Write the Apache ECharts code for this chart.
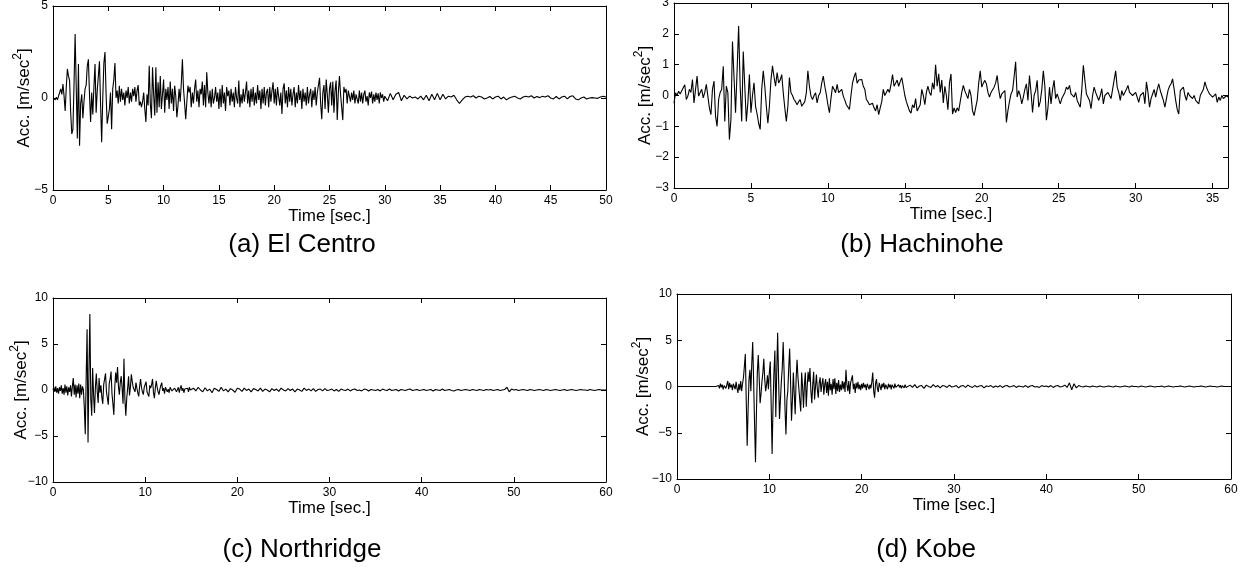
<!DOCTYPE html>
<html>
<head>
<meta charset="utf-8">
<script src="https://cdn.jsdelivr.net/npm/echarts/dist/echarts.min.js"></script>
<style>
html,body{margin:0;padding:0;background:#fff;}
#chart{width:1250px;height:575px;}
</style>
</head>
<body>
<div id="chart"></div>
<script>
// ---------------- DATA ----------------
// El Centro: 0..30 s every 0.1 s, then 30.25..50 s every 0.25 s  [m/sec^2]
const elCentroMain = [
0,0.05,-0.1,0.05,-0.1,0.1,0.3,0.5,0.2,0.76,
0.1,-0.7,0.6,1.58,1.2,0.95,-0.8,-1.95,-1.7,0.7,
3.48,0.6,-2.2,1.85,-2.6,-0.3,0.2,-1.1,-0.2,0.5,
0.7,1.75,2.1,0.2,-1.3,0.3,-0.9,0.6,1.85,-0.8,
0.4,1.2,2.0,-0.3,-2.4,0.0,1.9,2.5,0.2,-1.4,
-1.5,-0.6,0.3,-1.7,0.5,1.0,1.9,0.0,0.4,-0.3,
0.67,-0.2,0.5,-0.1,0.3,-0.4,0.4,0.0,0.6,-0.3,
0.3,-0.2,0.5,0.1,0.6,-0.2,0.4,0.7,-0.4,-0.2,
-0.5,-0.2,0.3,-0.6,-1.3,0.2,-0.4,1.75,-0.3,-1.1,
1.67,0.2,-0.95,1.67,-0.8,0.85,-0.5,1.2,-0.6,0.2,
1.0,-0.8,0.5,-0.1,0.6,-0.6,0.9,-0.3,0.5,-0.7,
0.67,0.1,-1.05,-0.4,0.5,-0.2,0.8,2.1,0.5,-0.3,
-1.15,-0.2,0.67,0.3,0.6,-0.5,0.3,-0.3,0.5,1.0,
-0.2,0.4,-0.5,0.5,0.2,0.9,-0.4,0.7,-0.5,1.4,
0.3,-0.3,0.4,-0.5,0.5,-0.3,0.0,0.6,-0.2,0.3,
-0.6,0.5,-0.5,0.7,-0.3,0.3,-0.7,0.6,0.1,0.4,
-0.4,0.5,-0.2,0.3,-0.5,0.6,0.0,-0.3,0.95,-0.5,
0.2,-0.3,0.5,-0.2,0.3,0.9,-0.3,0.4,-0.5,0.5,
-0.2,0.6,-0.4,0.3,-0.3,0.7,-0.1,0.4,-0.6,0.5,
-0.3,0.6,-0.4,0.3,0.5,-0.5,0.6,-0.2,0.4,0.85,
-0.3,0.5,-0.4,0.6,0.1,-0.4,0.3,-0.87,0.5,0.8,
-0.3,0.4,-0.5,0.6,-0.2,0.5,-0.4,0.2,0.6,-0.5,
0.3,-0.3,0.7,-0.1,0.4,-0.6,0.5,-0.2,0.3,-0.4,
0.6,-0.3,0.2,0.5,-0.5,0.4,-0.1,0.6,-0.4,0.3,
0.7,1.1,-0.3,-1.15,0.3,0.7,-0.6,1.0,0.2,-0.8,
0.5,0.85,-0.4,0.9,-0.8,0.4,0.95,-1.2,0.3,1.2,
0.2,-0.5,-1.2,0.6,0.3,0.5,-0.3,0.4,0.1,-0.2,
0.3,-0.1,0.4,-0.3,0.2,0.3,-0.3,0.4,-0.2,0.3,
-0.3,0.2,0.4,-0.2,0.1,-0.4,0.3,0.0,0.35,-0.3,
0.2,-0.2,0.3,-0.1,0.25,-0.3,0.3,0.0,0.2,-0.2,
0.1];
const elCentroTail = [
-0.15,0.25,-0.1,0.2,0.3,-0.15,0.15,-0.05,0.1,0.0,
0.05,-0.05,0.1,-0.1,0.15,-0.15,0.2,-0.1,0.25,-0.1,
0.2,-0.05,0.1,0.05,0.15,-0.1,-0.3,-0.1,0.05,0.1,
0.05,0.12,0.0,0.1,0.05,-0.05,0.0,0.08,-0.05,0.05,
0.1,-0.05,0.05,-0.1,0.0,0.05,0.1,0.0,-0.05,0.05,
0.1,0.05,0.12,0.0,0.08,0.02,0.1,0.05,0.12,0.0,
-0.05,0.08,-0.05,0.05,0.1,-0.05,0.08,0.12,-0.05,-0.1,
0.0,0.05,-0.05,0.0,0.02,0.0,-0.02,0.05,0.1,0.05];

// Hachinohe: 0..36 s every 0.1 s
const hachinohe = [
-0.25,0.09,0.0,0.14,0.05,0.09,0.25,0.35,-0.13,-0.02,
0.2,0.1,0.52,-0.24,0.2,0.63,-0.02,0.1,0.2,-0.08,
0.1,0.36,0.41,-0.4,-0.62,0.2,0.47,-0.67,-1.0,-0.13,
0.1,0.2,0.95,-0.84,0.3,0.09,-1.43,-0.78,1.75,0.6,
-0.56,0.8,2.25,0.3,-0.84,1.43,0.3,-0.84,-0.24,0.68,
-0.56,0.0,0.41,-0.35,-0.6,-0.9,-1.1,0.2,0.8,0.3,
-0.35,-0.9,-0.35,0.5,0.96,0.6,0.3,0.74,0.41,0.5,
0.68,0.09,-0.4,-0.84,-0.35,0.58,0.09,0.0,-0.13,-0.2,
-0.3,-0.2,-0.13,-0.35,-0.4,-0.2,0.09,0.8,0.3,-0.02,
-0.13,0.0,0.09,-0.24,0.0,0.09,0.4,0.63,0.3,0.03,
-0.3,-0.56,-0.1,0.3,0.2,0.09,0.36,0.09,0.15,0.2,
-0.02,-0.15,-0.3,-0.35,-0.45,0.0,0.4,0.6,0.74,0.4,
0.5,0.45,0.52,0.3,0.2,-0.13,-0.2,-0.3,-0.35,-0.25,
-0.4,-0.5,-0.3,-0.62,-0.4,-0.2,0.2,0.0,0.1,0.2,
0.1,0.35,0.68,0.3,0.4,0.5,0.3,0.45,0.58,0.3,
0.0,-0.2,-0.35,-0.5,-0.57,-0.3,-0.4,-0.1,-0.5,-0.45,
-0.3,0.2,0.0,-0.3,0.1,0.3,0.1,0.0,0.41,0.2,
1.0,0.3,0.7,0.1,0.5,-0.24,0.3,0.0,-0.46,0.4,
0.7,-0.6,-0.4,-0.55,-0.4,-0.5,-0.2,0.1,0.33,0.15,
0.15,-0.1,0.2,0.0,-0.5,-0.65,-0.4,-0.16,0.4,0.8,
0.27,0.4,0.49,0.38,0.1,-0.05,0.1,0.05,0.27,0.4,
0.65,0.2,-0.1,0.05,0.0,0.16,-0.87,-0.49,-0.2,0.05,
0.16,0.6,1.09,-0.05,0.16,0.0,-0.27,-0.05,0.2,0.38,
-0.16,0.65,0.1,-0.55,0.0,0.16,0.49,-0.38,-0.2,0.2,
0.8,0.3,-0.8,-0.4,0.27,-0.27,0.2,0.49,-0.1,0.05,
0.0,-0.27,-0.1,-0.05,0.1,0.27,0.2,0.33,0.05,0.1,
-0.05,0.1,-0.16,-0.1,-0.38,0.2,0.98,0.5,0.05,0.1,
-0.16,-0.43,0.0,0.27,0.1,0.16,-0.16,0.0,0.22,-0.27,
0.0,-0.05,0.1,0.05,-0.1,-0.16,0.5,0.8,0.27,0.1,
-0.16,0.16,0.0,0.05,0.2,0.33,0.1,0.16,0.0,-0.05,
0.1,0.05,-0.22,0.0,-0.05,0.1,-0.27,0.44,0.1,-0.38,
-0.1,0.05,0.2,-0.05,0.2,0.38,0.16,0.0,-0.16,-0.38,
-0.1,0.16,0.3,0.38,0.54,0.2,-0.16,-0.45,-0.6,0.16,
0.1,0.27,0.0,-0.16,0.1,0.0,-0.05,-0.1,0.0,-0.16,
-0.1,-0.27,0.0,-0.05,0.2,0.44,0.27,0.15,0.05,0.1,
-0.05,-0.1,0.05,-0.22,-0.05,-0.16,0.0,-0.1,-0.1,0.0,
-0.05];

// Northridge: 0..15 s every 0.1 s, then 15.25..60 s every 0.25 s
const northridgeMain = [
0.0,0.3,-0.2,0.4,-0.3,0.2,-0.4,0.3,-0.1,0.5,
-0.4,0.2,-0.5,0.6,-0.3,0.4,-0.6,0.3,-0.2,0.5,
-0.7,0.4,1.3,-0.5,0.6,-0.8,0.5,-0.4,0.7,-0.9,
0.6,-0.5,0.4,0.0,-2.0,-4.8,1.5,6.6,-5.7,2.0,
8.27,-1.0,-2.8,2.4,-0.5,-2.5,0.3,1.8,-0.2,-1.4,
1.3,-0.3,0.5,-0.8,-1.5,0.6,1.2,1.8,-0.2,-0.9,
-1.6,0.7,1.2,2.0,-0.4,-1.5,-2.7,0.3,1.9,0.8,
2.5,0.4,-0.5,0.8,1.5,0.2,-1.5,3.4,-1.0,-2.8,
-0.9,0.2,1.5,-0.6,0.3,1.7,0.9,0.3,0.5,-0.2,
0.8,0.2,-0.3,-0.7,0.4,1.2,0.3,-0.2,-0.5,0.3,
0.5,0.9,-0.2,-0.4,-0.7,0.5,0.2,0.6,1.2,-0.3,
-0.9,0.2,1.0,0.3,-0.2,-0.5,0.1,0.5,0.8,-0.1,
0.2,-0.4,0.3,0.5,-0.2,0.1,-0.3,0.3,0.4,-0.1,
0.1,-0.3,0.2,0.4,-0.2,0.0,0.3,-0.3,0.2,0.5,
-0.1,0.2,-0.3,0.1,0.3,-0.1,0.2,-0.2,0.3,0.0,
0.1];
const northridgeTail = [
0.2,-0.1,0.3,0.0,-0.2,0.25,-0.1,0.1,-0.3,0.2,0.05,-0.15,0.3,-0.1,0.1,-0.2,0.15,0.0,-0.25,0.2,
0.1,-0.15,0.2,-0.05,0.1,-0.2,0.15,0.05,-0.1,0.2,-0.15,0.1,0.0,-0.2,0.15,-0.05,0.1,-0.15,0.2,0.0,
-0.1,0.15,-0.05,0.1,-0.2,0.1,0.0,-0.15,0.2,-0.05,0.1,-0.1,0.15,-0.15,0.05,0.1,-0.1,0.15,-0.05,0.0,
0.1,-0.1,0.05,-0.15,0.1,0.0,-0.05,0.1,-0.1,0.05,0.1,-0.05,0.0,-0.1,0.1,0.05,-0.1,0.05,0.0,-0.05,
0.05,-0.1,0.1,0.0,-0.05,0.1,-0.05,0.0,0.05,-0.1,0.05,0.0,-0.05,0.05,0.1,-0.05,0.0,0.05,-0.05,0.0,
0.05,-0.05,0.0,0.05,-0.1,0.05,0.0,-0.05,0.1,-0.05,0.0,0.05,-0.05,-0.1,0.0,0.05,-0.05,0.0,0.05,0.0,
-0.05,0.05,0.0,-0.05,0.05,0.0,-0.05,0.05,0.0,0.05,-0.05,0.0,0.05,-0.05,0.0,0.05,0.3,-0.2,0.1,0.0,
0.05,-0.05,0.0,0.05,0.0,-0.05,0.05,0.0,-0.05,0.0,0.05,0.0,-0.05,0.05,0.0,-0.05,0.0,0.05,0.0,-0.05,
0.0,0.05,-0.05,0.0,0.05,0.0,-0.05,0.0,0.05,0.0,0.0,-0.05,0.05,0.0,-0.05,0.0,0.05,0.0,0.0,0.0];

// Kobe: 0..25 s every 0.1 s, then 25.25..60 s every 0.25 s
const kobeMain = [
0,0,0,0,0,0,0,0,0,0,
0,0,0,0,0,0,0,0,0,0,
0,0,0,0,0,0,0,0,0,0,
0,0,0,0,0,0,0,0,0,0,
0,0,0,0,0,0.1,-0.2,0.3,-0.1,0.2,
-0.3,0.1,0.3,-0.2,0.2,0.6,-0.3,0.4,-0.1,0.2,
-0.4,0.3,0.1,-0.3,0.5,-0.2,-0.7,0.3,-0.4,0.6,
-0.5,0.3,1.0,2.2,3.5,-1.5,-6.4,-2.5,0.8,1.8,
-0.5,2.5,4.8,0.5,-4.0,-8.2,-3.0,1.5,3.4,1.0,
-1.8,-0.8,0.5,1.5,3.0,0.8,-0.5,0.2,1.2,-0.3,
1.5,2.7,-2.0,-7.3,-2.0,1.5,3.9,-3.3,1.5,5.8,
1.0,-3.5,-1.5,0.5,2.0,4.8,1.5,-2.5,-5.2,-1.5,
-0.5,2.0,4.1,0.5,-3.7,-1.5,1.5,-0.8,-3.0,0.8,
2.9,1.0,1.2,-1.5,-2.7,1.5,0.0,-2.3,0.2,1.5,
-2.2,0.0,1.6,0.5,2.0,-0.5,-1.8,0.2,1.6,-1.4,
0.0,1.3,-0.3,-1.2,0.4,1.0,-0.6,0.3,0.9,-0.9,
0.2,0.8,-0.7,0.5,-1.0,0.9,-0.4,0.3,-0.9,0.8,
-0.3,0.9,-0.8,0.4,-0.5,0.7,-0.6,0.2,-0.4,0.6,
-0.3,0.5,-0.6,1.8,0.2,-0.5,0.6,-0.8,0.4,0.2,
1.2,-0.3,0.3,-0.7,0.4,-0.2,0.5,-0.3,0.2,-0.4,
0.3,-0.2,0.4,-0.1,0.2,-0.4,0.3,0.0,-0.3,0.2,
-0.2,0.5,1.5,-0.5,-1.2,0.3,0.8,-0.2,-0.6,0.4,
0.2,-0.4,0.3,-0.1,0.4,-0.3,0.2,0.0,-0.3,0.3,
-0.1,0.2,-0.3,0.2,0.0,-0.2,0.3,-0.1,0.1,-0.2,
0.2,-0.1,0.15,-0.2,0.1,0.0,-0.15,0.2,-0.1,0.1,
0.0];
const kobeTail = [
0.15,-0.1,0.2,-0.15,0.05,0.1,-0.2,0.15,0.0,-0.1,0.2,-0.05,0.1,-0.15,0.1,0.05,-0.1,0.15,-0.05,0.0,
0.1,-0.15,0.05,0.1,-0.1,0.15,0.0,-0.1,0.1,-0.05,0.05,0.1,-0.15,0.05,0.0,0.1,-0.1,0.05,-0.05,0.1,
-0.1,0.05,0.1,-0.05,0.0,0.1,-0.1,0.05,0.0,-0.05,0.1,-0.1,0.05,0.1,-0.05,0.0,-0.1,0.1,0.0,0.05,
-0.05,0.1,-0.1,0.05,0.1,-0.05,0.0,0.15,-0.1,0.4,-0.35,0.3,-0.15,0.1,0.0,-0.05,0.05,0.0,-0.05,0.05,
0.0,-0.05,0.05,0.0,-0.05,0.0,0.05,0.0,-0.05,0.05,0.0,-0.05,0.0,0.05,0.0,-0.05,0.05,0.0,0.0,-0.05,
0.05,0.0,-0.05,0.0,0.05,0.0,-0.05,0.0,0.0,0.05,-0.05,0.0,0.05,0.0,-0.05,0.0,0.0,0.05,0.0,-0.05,
0.0,0.05,0.0,-0.05,0.0,0.0,0.05,0.0,-0.05,0.0,0.05,0.0,0.0,-0.05,0.0,0.05,0.0,0.0,0.0,0.0];

// Axis tick settings
const xMaxes = [50, 36, 60, 60];
const xSteps = [5, 5, 10, 10];
const yMins = [-5, -3, -10, -10];
const yMaxes = [5, 3, 10, 10];
const ySteps = [5, 1, 5, 5];
const subTitles = ['(a) El Centro', '(b) Hachinohe', '(c) Northridge', '(d) Kobe'];
const xTitle = 'Time [sec.]';

// ---------------- build ----------------
function segment(values, start, step) {
  return values.map((v, i) => [Math.round((start + i * step) * 1000) / 1000, v]);
}
const seriesData = [
  segment(elCentroMain, 0, 0.1).concat(segment(elCentroTail, 30.25, 0.25)),
  segment(hachinohe, 0, 0.1),
  segment(northridgeMain, 0, 0.1).concat(segment(northridgeTail, 15.25, 0.25)),
  segment(kobeMain, 0, 0.1).concat(segment(kobeTail, 25.25, 0.25))
];

// layout (pixels)
const grids = [
  {left: 53, top: 6, width: 553, height: 184},
  {left: 674, top: 3, width: 554, height: 185},
  {left: 53, top: 298, width: 553, height: 184},
  {left: 677, top: 294, width: 554, height: 185}
];
const yNameGaps = [20, 20, 23, 25];
const titlePos = [[302, 245], [922, 245], [302, 550], [926, 550]];

const FONT = 'Liberation Sans, Arial, Helvetica, sans-serif';
const minusFmt = v => String(v).replace('-', '\u2212');

const option = {
  animation: false,
  backgroundColor: '#fff',
  grid: grids.map(g => Object.assign({outerBoundsMode: 'none', containLabel: false}, g)),
  xAxis: [],
  yAxis: [],
  series: [],
  graphic: []
};

const axisLine = {show: true, onZero: false, lineStyle: {color: '#000', width: 1}};
const axisTick = {show: true, inside: true, length: 5, lineStyle: {color: '#000', width: 1}};

for (let p = 0; p < 4; p++) {
  option.xAxis.push({
    type: 'value', gridIndex: p, position: 'bottom',
    min: 0, max: xMaxes[p], interval: xSteps[p],
    axisLine, axisTick, splitLine: {show: false},
    axisLabel: {color: '#000', fontSize: 12, fontFamily: FONT, margin: 5,
      showMaxLabel: xMaxes[p] % xSteps[p] === 0, formatter: minusFmt},
    name: xTitle, nameLocation: 'middle', nameGap: 18, nameMoveOverlap: false,
    nameTextStyle: {color: '#000', fontSize: 17, fontFamily: FONT}
  });
  option.xAxis.push({
    type: 'value', gridIndex: p, position: 'top',
    min: 0, max: xMaxes[p], interval: xSteps[p],
    axisLine, axisTick, splitLine: {show: false}, axisLabel: {show: false}
  });
  option.yAxis.push({
    type: 'value', gridIndex: p, position: 'left',
    min: yMins[p], max: yMaxes[p], interval: ySteps[p],
    axisLine, axisTick, splitLine: {show: false},
    axisLabel: {color: '#000', fontSize: 12, fontFamily: FONT, margin: 5, formatter: minusFmt},
    name: '{n|Acc. [m/sec}{s|2}{n|]}', nameLocation: 'middle', nameRotate: 90,
    nameGap: yNameGaps[p], nameMoveOverlap: false,
    nameTextStyle: {color: '#000', fontSize: 17, fontFamily: FONT,
      rich: {
        n: {color: '#000', fontSize: 17, fontFamily: FONT, lineHeight: 21, verticalAlign: 'bottom'},
        s: {color: '#000', fontSize: 12, fontFamily: FONT, lineHeight: 21, verticalAlign: 'top'}
      }}
  });
  option.yAxis.push({
    type: 'value', gridIndex: p, position: 'right',
    min: yMins[p], max: yMaxes[p], interval: ySteps[p],
    axisLine, axisTick, splitLine: {show: false}, axisLabel: {show: false}
  });
  option.series.push({
    type: 'line', xAxisIndex: 2 * p, yAxisIndex: 2 * p,
    data: seriesData[p], showSymbol: false, symbol: 'none',
    lineStyle: {color: '#000', width: 1.1}, silent: true
  });
  option.graphic.push({
    type: 'text', x: titlePos[p][0], y: titlePos[p][1],
    style: {text: subTitles[p], fill: '#000', font: '26px ' + FONT,
      align: 'center', verticalAlign: 'middle', textAlign: 'center', textVerticalAlign: 'middle'}
  });
}

const chart = echarts.init(document.getElementById('chart'), null, {renderer: 'canvas'});
chart.setOption(option);
</script>
</body>
</html>
